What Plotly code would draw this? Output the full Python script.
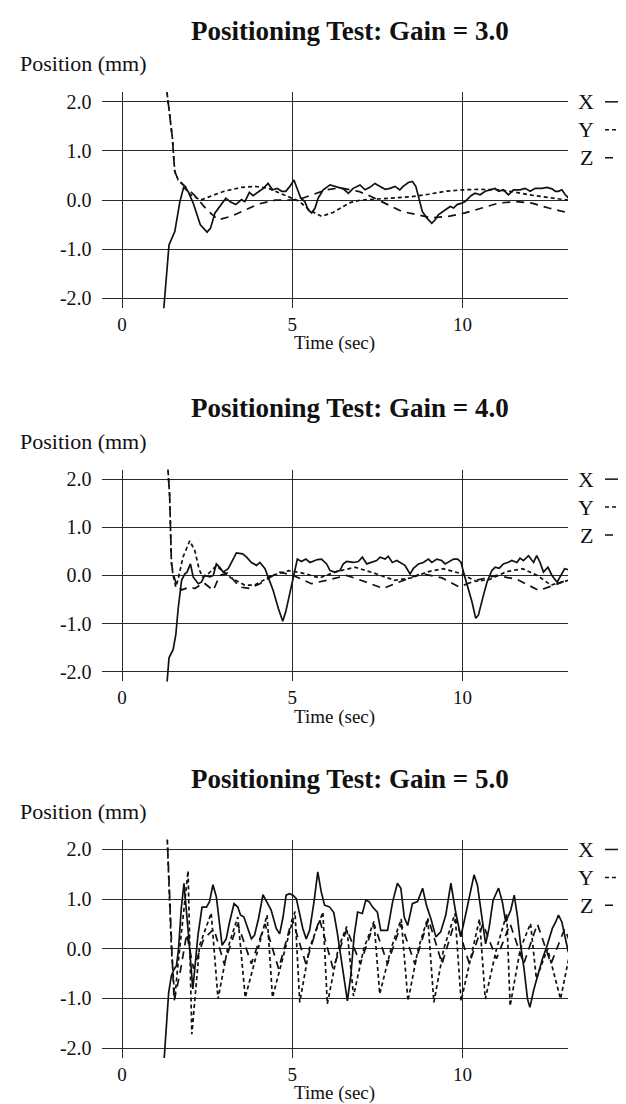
import plotly.graph_objects as go

W, H = 626, 1104

# ---------------- data ----------------
titles = ["Positioning Test: Gain = 3.0", "Positioning Test: Gain = 4.0", "Positioning Test: Gain = 5.0"]
y_tick_vals = [-2, -1, 0, 1, 2]
y_tick_text = ["-2.0", "-1.0", "0.0", "1.0", "2.0"]
x_tick_vals = [0, 5, 10]
x_tick_text = ["0", "5", "10"]
series_names = ["X", "Y", "Z"]

# Gain 3.0
g3_x_t = [1.18, 1.38, 1.55, 1.70, 1.81, 1.94, 2.09, 2.30, 2.50, 2.60, 2.73, 2.87, 3.05, 3.19, 3.34, 3.51, 3.61, 3.74, 3.85, 4.03,
          4.15, 4.29, 4.42, 4.56, 4.69, 4.81, 4.93, 5.05, 5.15, 5.25, 5.37, 5.47, 5.57, 5.67, 5.76, 5.91, 6.11, 6.25, 6.5, 6.65,
          6.79, 6.99, 7.14, 7.28, 7.43, 7.58, 7.73, 7.87, 8.02, 8.16, 8.26, 8.41, 8.53, 8.63, 8.73, 8.82, 8.95, 9.10, 9.20, 9.29,
          9.49, 9.64, 9.74, 9.84, 9.98, 10.08, 10.25, 10.37, 10.52, 10.67, 10.81, 10.96, 11.06, 11.20, 11.35, 11.50, 11.69, 11.84,
          11.99, 12.14, 12.33, 12.48, 12.63, 12.73, 12.82, 12.92, 13.02, 13.12]
g3_x_v = [-2.6, -0.91, -0.64, -0.03, 0.26, 0.18, -0.06, -0.50, -0.65, -0.57, -0.26, -0.13, 0.04, -0.04, -0.09, 0.01, -0.03, 0.16, 0.09, 0.18,
          0.24, 0.34, 0.21, 0.24, 0.18, 0.18, 0.28, 0.41, 0.24, 0.04, -0.03, -0.20, -0.26, -0.16, 0.04, 0.21, 0.31, 0.28, 0.23, 0.14,
          0.24, 0.31, 0.21, 0.26, 0.34, 0.28, 0.22, 0.24, 0.28, 0.21, 0.28, 0.36, 0.38, 0.28, 0.04, -0.23, -0.36, -0.47, -0.40, -0.30,
          -0.20, -0.13, -0.16, -0.09, -0.06, -0.03, 0.09, 0.14, 0.11, 0.18, 0.21, 0.24, 0.18, 0.21, 0.11, 0.21, 0.21, 0.24,
          0.18, 0.24, 0.24, 0.26, 0.23, 0.18, 0.18, 0.21, 0.11, 0.04]
g3_y_t = [1.30, 1.32, 1.40, 1.48, 1.52, 1.55, 1.65, 1.84, 2.0, 2.3, 2.6, 3.0, 3.5, 3.9, 4.3, 4.7, 5.0, 5.2, 5.5, 5.86, 6.2, 6.7,
          7.0, 7.5, 8.0, 8.5, 9.0, 9.5, 10.0, 10.5, 11.06, 11.5, 11.94, 12.5, 13.1]
g3_y_v = [2.6, 2.2, 1.73, 1.26, 0.85, 0.58, 0.41, 0.28, 0.12, 0.0, 0.08, 0.18, 0.26, 0.28, 0.24, 0.12, 0.03, -0.02, -0.20, -0.33, -0.25, -0.05,
          0.0, 0.02, 0.04, 0.07, 0.12, 0.18, 0.21, 0.22, 0.21, 0.17, 0.11, 0.05, 0.0]
g3_z_t = [1.30, 1.32, 1.40, 1.48, 1.52, 1.55, 1.65, 1.84, 2.1, 2.5, 2.82, 3.2, 3.6, 4.0, 4.5, 5.0, 5.3, 5.7, 6.0, 6.4, 6.94, 7.3,
          7.63, 8.22, 8.7, 9.1, 9.59, 10.08, 10.57, 11.06, 11.55, 12.04, 12.53, 13.12]
g3_z_v = [2.6, 2.2, 1.73, 1.26, 0.85, 0.58, 0.41, 0.28, 0.12, -0.20, -0.40, -0.33, -0.20, -0.08, 0.0, 0.0, 0.04, 0.14, 0.21, 0.25, 0.18, 0.08,
          -0.03, -0.23, -0.30, -0.36, -0.33, -0.26, -0.16, -0.06, -0.03, -0.06, -0.16, -0.26]

# Gain 4.0
g4_x_t = [1.28, 1.38, 1.50, 1.58, 1.65, 1.75, 1.84, 1.91, 2.01, 2.09, 2.24, 2.33, 2.43, 2.58, 2.68, 2.77, 2.87, 2.97, 3.12, 3.25,
          3.36, 3.54, 3.66, 3.80, 3.95, 4.05, 4.20, 4.29, 4.44, 4.59, 4.72, 4.81, 4.93, 5.03, 5.15, 5.27, 5.40, 5.52, 5.64, 5.74,
          5.86, 6.01, 6.11, 6.25, 6.40, 6.5, 6.6, 6.79, 6.94, 7.06, 7.19, 7.33, 7.48, 7.58, 7.73, 7.82, 7.94, 8.07, 8.22, 8.31,
          8.46, 8.56, 8.71, 8.85, 9.0, 9.1, 9.25, 9.39, 9.49, 9.64, 9.74, 9.86, 9.96, 10.03, 10.13, 10.28, 10.39, 10.47, 10.59,
          10.72, 10.86, 10.96, 11.08, 11.2, 11.33, 11.45, 11.6, 11.69, 11.79, 11.94, 12.09, 12.18, 12.28, 12.38, 12.51, 12.63,
          12.78, 12.88, 13.0, 13.12]
g4_x_v = [-2.6, -1.71, -1.54, -1.23, -0.68, -0.10, 0.03, 0.07, 0.24, -0.03, -0.17, -0.14, 0.0, -0.03, 0.0, 0.24, 0.17, 0.07, 0.14, 0.31,
          0.47, 0.45, 0.38, 0.27, 0.21, 0.27, 0.14, -0.03, -0.31, -0.68, -0.95, -0.75, -0.34, -0.03, 0.34, 0.29, 0.34, 0.27, 0.31, 0.33,
          0.34, 0.24, 0.10, 0.07, 0.10, 0.24, 0.29, 0.27, 0.29, 0.38, 0.24, 0.27, 0.31, 0.38, 0.34, 0.40, 0.27, 0.31, 0.24, 0.21,
          0.03, 0.15, 0.24, 0.27, 0.34, 0.27, 0.34, 0.31, 0.24, 0.31, 0.34, 0.34, 0.27, 0.07, -0.17, -0.55, -0.89, -0.82, -0.48,
          -0.14, 0.10, 0.17, 0.15, 0.24, 0.27, 0.31, 0.27, 0.36, 0.31, 0.41, 0.27, 0.41, 0.27, 0.07, 0.17, 0.0,
          -0.14, 0.0, 0.14, 0.12]
g4_y_t = [1.33, 1.35, 1.40, 1.42, 1.45, 1.50, 1.58, 1.65, 1.79, 1.99, 2.14, 2.26, 2.36, 2.48, 2.63, 2.77, 3.2, 3.6, 3.9, 4.4,
          4.9, 5.3, 5.8, 6.3, 6.85, 7.4, 8.0, 8.5, 9.0, 9.43, 9.9, 10.4, 10.8, 11.3, 11.77, 12.2, 12.6, 13.12]
g4_y_v = [2.6, 2.19, 1.64, 0.96, 0.27, 0.0, -0.24, -0.07, 0.38, 0.72, 0.51, 0.14, -0.03, 0.0, 0.10, 0.20, -0.05, -0.20, -0.20, 0.0,
          0.10, 0.05, -0.05, 0.08, 0.17, 0.05, -0.10, -0.05, 0.08, 0.14, 0.05, -0.12, -0.08, 0.08, 0.14, 0.0, -0.20, -0.10]
g4_z_t = [1.33, 1.35, 1.40, 1.42, 1.45, 1.50, 1.60, 1.75, 1.99, 2.14, 2.4, 2.68, 2.87, 3.1, 3.46, 3.75, 4.05, 4.44, 4.64, 5.03,
          5.23, 5.56, 6.01, 6.6, 7.1, 7.67, 8.2, 8.8, 9.4, 9.9, 10.4, 11.0, 11.6, 12.24, 12.7, 13.12]
g4_z_v = [2.6, 2.19, 1.64, 0.96, 0.27, 0.05, -0.2, -0.3, -0.24, -0.27, -0.15, -0.31, 0.0, 0.05, -0.24, -0.27, -0.17, 0.0, 0.07, 0.0,
          -0.07, -0.17, -0.10, 0.0, -0.12, -0.27, -0.12, 0.04, -0.05, -0.24, -0.10, 0.0, -0.08, -0.31, -0.2, -0.08]

# Gain 5.0
g5_x_t = [1.20, 1.37, 1.45, 1.53, 1.60, 1.66, 1.74, 1.82, 1.95, 2.08, 2.23, 2.35, 2.48, 2.57, 2.67, 2.77, 2.94, 3.06, 3.16, 3.29,
          3.40, 3.48, 3.58, 3.70, 3.80, 3.89, 4.01, 4.14, 4.29, 4.38, 4.53, 4.63, 4.73, 4.82, 4.92, 5.02, 5.12, 5.21, 5.31, 5.41,
          5.51, 5.64, 5.75, 5.85, 5.95, 6.10, 6.22, 6.32, 6.42, 6.54, 6.62, 6.72, 6.82, 6.92, 7.06, 7.16, 7.26, 7.36, 7.50, 7.60,
          7.80, 7.95, 8.09, 8.19, 8.29, 8.39, 8.53, 8.68, 8.83, 8.94, 9.07, 9.22, 9.36, 9.51, 9.66, 9.80, 9.95, 10.10, 10.24,
          10.34, 10.44, 10.54, 10.68, 10.78, 10.90, 11.06, 11.17, 11.27, 11.42, 11.52, 11.61, 11.71, 11.81, 11.91, 11.98, 12.10,
          12.25, 12.35, 12.49, 12.64, 12.74, 12.82, 12.92, 13.01, 13.11]
g5_x_v = [-2.6, -0.88, -0.54, -0.41, -0.34, 0.0, 0.81, 1.32, 0.30, -0.81, 0.27, 0.84, 0.84, 0.95, 1.29, 1.05, 0.07, 0.20, 0.54, 0.91,
          0.84, 0.68, 0.64, 0.41, 0.20, 0.27, 0.61, 1.09, 0.91, 0.78, 0.41, 0.30, 0.64, 1.08, 1.11, 1.08, 1.01, 0.74, 0.41, 0.20,
          0.37, 0.95, 1.55, 1.15, 0.88, 0.84, 0.73, 0.34, -0.14, -0.61, -1.05, -0.54, 0.27, 0.74, 0.71, 0.98, 0.95, 0.84, 0.74, 0.37,
          0.37, 0.95, 1.32, 1.22, 0.64, 0.47, 0.91, 0.95, 1.22, 0.88, 0.61, 0.24, 0.34, 0.68, 1.32, 0.74, 0.24, 0.71, 1.18,
          1.49, 1.28, 0.74, 0.10, 0.41, 0.98, 1.22, 0.95, 0.54, 0.78, 1.08, 0.68, 0.07, -0.41, -1.01, -1.18, -0.81,
          -0.41, -0.20, 0.07, 0.41, 0.54, 0.68, 0.54, 0.27, -0.07]
g5_y_t = [1.30, 1.33, 1.45, 1.55, 1.64, 1.74, 1.94, 2.05, 2.28, 2.62, 2.82, 3.1, 3.4, 3.62, 4.0, 4.26, 4.42, 4.8, 5.08, 5.22, 5.5,
          5.9, 6.03, 6.35, 6.6, 6.8, 7.1, 7.4, 7.57, 7.9, 8.2, 8.4, 8.7, 8.98, 9.16, 9.45, 9.78, 9.96, 10.3, 10.5, 10.67, 11.0,
          11.3, 11.4, 11.7, 12.0, 12.17, 12.5, 12.88, 13.12]
g5_y_v = [2.6, 2.2, 0.0, -1.0, -0.34, 0.27, 1.57, -1.72, 0.07, 0.72, -1.01, 0.0, 0.64, -0.98, 0.0, 0.68, -0.98, 0.0, 0.75, -1.08, 0.0,
          0.74, -1.11, 0.0, 0.45, -0.95, 0.0, 0.55, -0.91, 0.0, 0.6, -1.05, 0.0, 0.62, -1.08, 0.0, 0.71, -1.05, 0.0, 0.6, -1.01, 0.0,
          0.7, -1.15, 0.0, 0.51, -0.6, 0.0, -1.01, -0.2]
g5_z_t = [1.30, 1.33, 1.45, 1.53, 1.7, 1.9, 2.1, 2.4, 2.7, 3.0, 3.4, 3.8, 4.2, 4.6, 5.0, 5.4, 5.8, 6.2, 6.6, 7.0, 7.4, 7.8,
          8.2, 8.6, 9.0, 9.4, 9.8, 10.2, 10.6, 11.0, 11.4, 11.8, 12.2, 12.6, 13.0, 13.12]
g5_z_v = [2.6, 2.2, 0.2, -1.05, -0.5, 0.3, -0.4, 0.2, 0.4, -0.3, 0.5, -0.3, 0.5, -0.4, 0.6, -0.3, 0.6, -0.4, 0.4, -0.3, 0.5, -0.3,
          0.5, -0.3, 0.6, -0.3, 0.6, -0.3, 0.5, -0.2, 0.5, -0.3, 0.5, -0.3, 0.4, 0.2]

panels = [
    (g3_x_t, g3_x_v, g3_y_t, g3_y_v, g3_z_t, g3_z_v),
    (g4_x_t, g4_x_v, g4_y_t, g4_y_v, g4_z_t, g4_z_v),
    (g5_x_t, g5_x_v, g5_y_t, g5_y_v, g5_z_t, g5_z_v),
]

# ---------------- styling / layout ----------------
FONT = "Liberation Serif, Times New Roman, serif"
INK = "#111111"
GRID = "#2a2a2a"
dash_styles = {"X": "solid", "Y": "4px,3px", "Z": "8px,6px"}

x_range = [-0.6, 13.1]
y_range = [-2.2, 2.2]
x_left_px, x_right_px = 93.6, 560
y2_px = [93, 471, 842]      # pixel row of y = 2.0
ym2_px = [290, 664, 1041]   # pixel row of y = -2.0

fig = go.Figure()
layout = dict(
    width=W, height=H, margin=dict(l=0, r=0, t=0, b=0),
    paper_bgcolor="white", plot_bgcolor="white", showlegend=False,
    font=dict(family=FONT, color=INK),
)
annotations = []
shapes = []

for i, data in enumerate(panels):
    k = "" if i == 0 else str(i + 1)
    unit = (ym2_px[i] - y2_px[i]) / 4.0
    top = y2_px[i] - 0.2 * unit
    bot = ym2_px[i] + 0.2 * unit
    layout["xaxis" + k] = dict(
        domain=[x_left_px / W, x_right_px / W], range=x_range, anchor="y" + k,
        tickvals=x_tick_vals, ticktext=x_tick_text, showgrid=True, gridcolor=GRID, gridwidth=1.2,
        zeroline=False, showline=False, ticks="", tickfont=dict(size=19, family=FONT, color=INK),
        ticklabelstandoff=3, fixedrange=True,
    )
    layout["yaxis" + k] = dict(
        domain=[1 - bot / H, 1 - top / H], range=y_range, anchor="x" + k,
        tickvals=y_tick_vals, ticktext=y_tick_text, showgrid=True, gridcolor=GRID, gridwidth=1.2,
        zeroline=False, showline=False, ticks="", tickfont=dict(size=20, family=FONT, color=INK),
        ticklabelstandoff=9, fixedrange=True,
    )
    xt, xv, yt, yv, zt, zv = data
    for name, tt, vv in (("X", xt, xv), ("Y", yt, yv), ("Z", zt, zv)):
        fig.add_trace(go.Scatter(
            x=tt, y=vv, mode="lines", name=name, xaxis="x" + k, yaxis="y" + k,
            line=dict(color=INK, width=1.7, dash=dash_styles[name]),
            hoverinfo="skip",
        ))
    annotations.append(dict(
        text="<b>" + titles[i] + "</b>", x=342 / W, y=1 - (y2_px[i] - 71) / H,
        xref="paper", yref="paper", showarrow=False, xanchor="center", yanchor="middle",
        font=dict(size=27, family=FONT, color=INK),
    ))
    annotations.append(dict(
        text="Position (mm)", x=10 / W, y=1 - (y2_px[i] - 38) / H,
        xref="paper", yref="paper", showarrow=False, xanchor="left", yanchor="middle",
        font=dict(size=22, family=FONT, color=INK),
    ))
    annotations.append(dict(
        text="Time (sec)", x=326 / W, y=1 - (ym2_px[i] + 45) / H,
        xref="paper", yref="paper", showarrow=False, xanchor="center", yanchor="middle",
        font=dict(size=19, family=FONT, color=INK),
    ))
    for j, name in enumerate(series_names):
        yy = 1 - (y2_px[i] + 28 * j) / H
        annotations.append(dict(
            text=name, x=578 / W, y=yy, xref="paper", yref="paper", showarrow=False,
            xanchor="center", yanchor="middle", font=dict(size=22, family=FONT, color=INK),
        ))
        shapes.append(dict(
            type="line", xref="paper", yref="paper", x0=597 / W, x1=1.0, y0=yy, y1=yy,
            line=dict(color=INK, width=1.5, dash=dash_styles[name]),
        ))

layout["annotations"] = annotations
layout["shapes"] = shapes
fig.update_layout(**layout)
fig.write_html("out.html")
